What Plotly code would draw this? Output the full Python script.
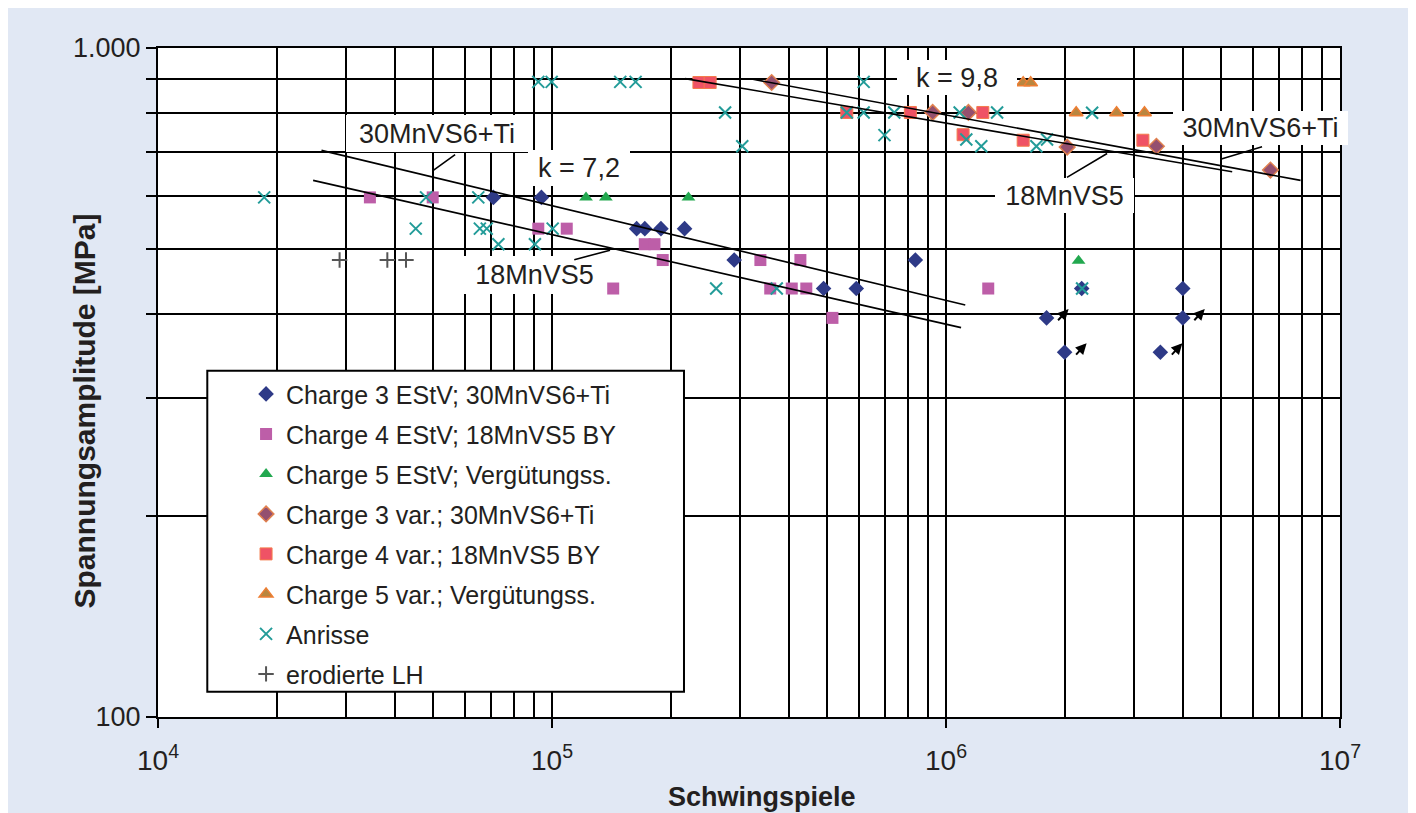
import numpy as np
import plotly.graph_objects as go

# ---------------- data ----------------
c3_estv_x = [7.1e4, 9.4e4, 1.64e5, 1.72e5, 1.89e5, 2.17e5, 2.9e5, 4.89e5, 5.92e5, 8.36e5,
             1.80e6, 2.00e6, 2.21e6, 3.50e6, 3.99e6, 3.99e6]
c3_estv_y = [598, 598, 537, 537, 537, 537, 482, 437, 437, 482, 395, 351, 437, 351, 437, 395]

c4_estv_x = [3.45e4, 4.98e4, 9.23e4, 1.09e5, 1.43e5, 1.72e5, 1.82e5, 1.91e5, 3.38e5, 3.58e5,
             4.06e5, 4.27e5, 4.42e5, 5.15e5, 1.28e6]
c4_estv_y = [598, 598, 537, 537, 437, 509, 509, 482, 482, 437, 437, 482, 437, 395, 437]

c5_estv_x = [1.22e5, 1.37e5, 2.22e5, 2.17e6]
c5_estv_y = [598, 598, 598, 481]

c3_var_x = [3.61e5, 9.25e5, 1.14e6, 2.03e6, 3.42e6, 6.66e6]
c3_var_y = [888, 801, 801, 711, 713, 657]

c4_var_x = [2.36e5, 2.52e5, 5.60e5, 8.12e5, 1.24e6, 1.105e6, 1.57e6, 3.16e6]
c4_var_y = [888, 888, 801, 801, 801, 742, 728, 728]

c5_var_x = [1.57e6, 1.64e6, 2.14e6, 2.71e6, 3.19e6]
c5_var_y = [887, 887, 800, 800, 800]

anrisse_x = [1.86e4, 4.51e4, 4.79e4, 6.50e4, 6.56e4, 6.83e4, 7.31e4, 9.05e4, 9.23e4, 9.98e4,
             1.004e5, 1.49e5, 1.63e5, 2.75e5, 3.04e5, 2.61e5, 3.72e5, 6.18e5, 5.60e5, 6.18e5,
             7.39e5, 6.98e5, 1.083e6, 1.348e6, 1.126e6, 1.229e6, 1.696e6, 1.805e6, 2.349e6, 2.215e6]
anrisse_y = [598, 537, 598, 598, 537, 537, 509, 509, 890, 890,
             537, 890, 890, 801, 713, 437, 437, 890, 801, 801,
             801, 741, 801, 801, 730, 713, 713, 730, 800, 437]

erod_x = [2.89e4, 3.82e4, 4.26e4]
erod_y = [482, 482, 482]

# Durchläufer (run-outs) marked with arrows
runout_x = [1.80e6, 2.00e6, 3.99e6, 3.50e6]
runout_y = [395, 351, 395, 351]

# Wöhler lines
line30L_x = [2.60e4, 1.119e6]; line30L_y = [703, 413]
line18L_x = [2.476e4, 1.092e6]; line18L_y = [634, 382]
line18R_x = [2.177e5, 5.326e6]; line18R_y = [900, 653]
line30R_x = [3.234e5, 7.943e6]; line30R_y = [898, 634]

# labels
label_text = ["30MnVS6+Ti", "k = 7,2", "18MnVS5", "k = 9,8", "30MnVS6+Ti", "18MnVS5"]
label_x = [5.12e4, 1.171e5, 9.05e4, 1.068e6, 6.266e6, 2.004e6]
label_y = [744.8, 661, 457.6, 902.8, 758.6, 601.6]
label_w = [182, 102, 145, 120, 175, 139]
label_h = [37, 36, 38, 35, 34, 35]

# leader lines: (start x, start y) -> (end x, end y)
leader_sx = [5.727e4, 1.129e5, 6.397e6, 2.010e6]
leader_sy = [695.5, 481.8, 713, 638.6]
leader_ex = [4.977e4, 1.404e5, 4.974e6, 2.564e6]
leader_ey = [655, 498.7, 682, 695.5]

x_tickvals = [1e4, 1e5, 1e6, 1e7]
x_ticktext = ["10<sup>4</sup>", "10<sup>5</sup>", "10<sup>6</sup>", "10<sup>7</sup>"]
x_minor = [m * 10 ** e for e in (4, 5, 6) for m in range(2, 10)]
y_tickvals = [100, 200, 300, 400, 500, 600, 700, 800, 900, 1000]
y_ticktext = ["100", "", "", "", "", "", "", "", "", "1.000"]

FONT = "Liberation Sans, Arial, Helvetica, sans-serif"
TXT = "#231F20"
BG = "#E1E8F4"

fig = go.Figure()


def add_pts(x, y, name, symbol, color, size, lcolor=None, lwidth=0):
    fig.add_trace(go.Scatter(
        x=x, y=y, mode="markers", name=name, legendgroup=name,
        marker=dict(symbol=symbol, color=color, size=size,
                    line=dict(color=lcolor if lcolor else color, width=lwidth)),
        hoverinfo="skip"))


add_pts(c3_estv_x, c3_estv_y, "Charge 3 EStV; 30MnVS6+Ti", "diamond", "#2E3A87", 12)
add_pts(c4_estv_x, c4_estv_y, "Charge 4 EStV; 18MnVS5 BY", "square", "#BD5EA8", 12)
add_pts(c5_estv_x, c5_estv_y, "Charge 5 EStV; Vergütungss.", "triangle-up", "#22A84F", 12)
add_pts(c3_var_x, c3_var_y, "Charge 3 var.; 30MnVS6+Ti", "diamond", "#94506F", 12, "#E0804F", 1.5)
add_pts(c4_var_x, c4_var_y, "Charge 4 var.; 18MnVS5 BY", "square", "#EF5265", 12, "#F47C4C", 1)
add_pts(c5_var_x, c5_var_y, "Charge 5 var.; Vergütungss.", "triangle-up", "#B9863F", 12, "#EE7E33", 1.5)
add_pts(anrisse_x, anrisse_y, "Anrisse", "x-thin-open", "#239C99", 12, "#239C99", 2)
add_pts(erod_x, erod_y, "erodierte LH", "cross-thin-open", "#555555", 11, "#555555", 2)

for lx, ly in [(line30L_x, line30L_y), (line18L_x, line18L_y),
               (line18R_x, line18R_y), (line30R_x, line30R_y)]:
    fig.add_trace(go.Scatter(x=lx, y=ly, mode="lines", showlegend=False,
                             line=dict(color="black", width=1.6), hoverinfo="skip"))

annotations = []
for t, x, y, w, h in zip(label_text, label_x, label_y, label_w, label_h):
    annotations.append(dict(
        x=np.log10(x), y=np.log10(y), xref="x", yref="y", text=t, showarrow=False,
        font=dict(family=FONT, size=27, color=TXT), bgcolor="white",
        width=w, height=h, borderpad=0, borderwidth=0,
        xanchor="center", yanchor="middle"))

for sx, sy, ex, ey in zip(leader_sx, leader_sy, leader_ex, leader_ey):
    annotations.append(dict(
        x=np.log10(ex), y=np.log10(ey), xref="x", yref="y",
        ax=np.log10(sx), ay=np.log10(sy), axref="x", ayref="y",
        text=" ", font=dict(size=1), showarrow=True, arrowhead=0,
        arrowwidth=1.6, arrowcolor="black", standoff=0, startstandoff=0))

for rx, ry in zip(runout_x, runout_y):
    annotations.append(dict(
        x=np.log10(rx), y=np.log10(ry), xref="x", yref="y",
        xshift=22, yshift=9, ax=-12, ay=13,
        text=" ", font=dict(size=1), showarrow=True, arrowhead=2,
        arrowsize=1.1, arrowwidth=2, arrowcolor="black"))

# axis titles
annotations.append(dict(
    x=-0.0626, y=0.4567, xref="paper", yref="paper", text="<b>Spannungsamplitude [MPa]</b>",
    textangle=-90, showarrow=False, font=dict(family=FONT, size=30, color=TXT),
    xanchor="center", yanchor="middle"))
annotations.append(dict(
    x=0.5114, y=-0.1196, xref="paper", yref="paper", text="<b>Schwingspiele</b>",
    showarrow=False, font=dict(family=FONT, size=27, color=TXT),
    xanchor="center", yanchor="middle"))

shapes = [
    # legend box
    dict(type="rect", xref="paper", yref="paper", x0=0.0417, x1=0.445, y0=0.0378, y1=0.5176,
         fillcolor="white", line=dict(color="black", width=2), layer="above"),
]

fig.update_layout(
    width=1400, height=805, autosize=False,
    margin=dict(l=150, r=68, t=40, b=96),
    paper_bgcolor=BG, plot_bgcolor="white",
    font=dict(family=FONT, color=TXT),
    showlegend=True,
    legend=dict(x=0.0745, y=0.517, xanchor="left", yanchor="top",
                bgcolor="rgba(0,0,0,0)", borderwidth=0,
                font=dict(family=FONT, size=25, color=TXT),
                traceorder="grouped", tracegroupgap=4.5),
    annotations=annotations,
    shapes=shapes,
    xaxis=dict(type="log", range=[4, 7], showline=True, linecolor="black", linewidth=2,
               mirror=True, ticks="outside", ticklen=9, tickwidth=1.5, tickcolor="black",
               tickmode="array", tickvals=x_tickvals, ticktext=x_ticktext,
               tickfont=dict(family=FONT, size=28, color=TXT), ticklabelstandoff=8,
               showgrid=True, gridcolor="black", gridwidth=1.5, zeroline=False,
               minor=dict(tickmode="array", tickvals=x_minor, showgrid=True,
                          gridcolor="black", gridwidth=1.5, ticks="")),
    yaxis=dict(type="log", range=[2, 3], showline=True, linecolor="black", linewidth=2,
               mirror=True, ticks="outside", ticklen=10, tickwidth=1.5, tickcolor="black",
               tickmode="array", tickvals=y_tickvals, ticktext=y_ticktext,
               tickfont=dict(family=FONT, size=27, color=TXT),
               showgrid=True, gridcolor="black", gridwidth=1.5, zeroline=False),
)

fig.write_html("out.html")
